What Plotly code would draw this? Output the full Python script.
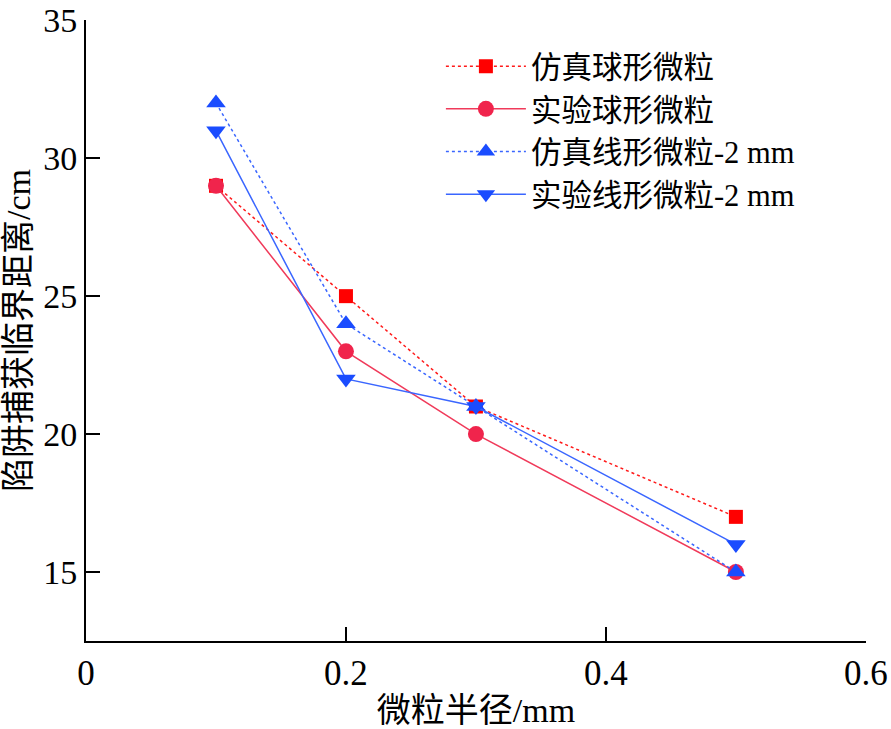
import plotly.graph_objects as go

radius = [0.1, 0.2, 0.3, 0.5]
sim_sphere = [29, 25, 21, 17]
exp_sphere = [29, 23, 20, 15]
sim_wire = [32, 24, 21, 15]
exp_wire = [31, 22, 21, 16]

names = ["仿真球形微粒", "实验球形微粒", "仿真线形微粒-2 mm", "实验线形微粒-2 mm"]
x_title = "微粒半径/mm"
y_title = "陷阱捕获临界距离/cm"

FONT = "Liberation Serif, Times New Roman, Noto Sans CJK SC, serif"

fig = go.Figure()
fig.add_trace(go.Scatter(x=radius, y=sim_sphere, name=names[0], mode="lines+markers",
                         line=dict(color="#ff1a1a", width=1.5, dash="dot"),
                         marker=dict(symbol="square", size=14, color="#ff0000")))
fig.add_trace(go.Scatter(x=radius, y=exp_sphere, name=names[1], mode="lines+markers",
                         line=dict(color="#f03a5a", width=1.5),
                         marker=dict(symbol="circle", size=16, color="#f0244c")))
fig.add_trace(go.Scatter(x=radius, y=sim_wire, name=names[2], mode="lines+markers",
                         line=dict(color="#3a66ff", width=1.5, dash="dot"),
                         marker=dict(symbol="triangle-up", size=17, color="#1a4cff")))
fig.add_trace(go.Scatter(x=radius, y=exp_wire, name=names[3], mode="lines+markers",
                         line=dict(color="#3a66ff", width=1.5),
                         marker=dict(symbol="triangle-down", size=17, color="#1a4cff")))

fig.update_layout(
    width=891, height=729,
    margin=dict(l=86, r=25, t=20, b=88),
    paper_bgcolor="white", plot_bgcolor="white",
    font=dict(family=FONT, size=32, color="black"),
    showlegend=True,
    legend=dict(x=0.455, y=0.968, xanchor="left", yanchor="top",
                bgcolor="rgba(0,0,0,0)", font=dict(size=30.5, family=FONT),
                itemwidth=80, tracegroupgap=0),
)
fig.update_xaxes(range=[0, 0.6001], tickvals=[0, 0.2, 0.4, 0.6], ticktext=["0", "0.2", "0.4", "0.6"],
                 showline=True, linecolor="black", linewidth=2, mirror=False,
                 ticks="inside", ticklen=14, tickwidth=2, tickcolor="black",
                 showgrid=False, zeroline=False, automargin=False,
                 ticklabeloverflow="allow",
                 tickfont=dict(size=35),
                 title=dict(text=x_title, standoff=8, font=dict(size=34)))
fig.update_yaxes(range=[12.5, 35.01], tickvals=[15, 20, 25, 30, 35],
                 showline=True, linecolor="black", linewidth=2, mirror=False,
                 ticks="inside", ticklen=14, tickwidth=2, tickcolor="black",
                 showgrid=False, zeroline=False, automargin=False,
                 ticklabeloverflow="allow",
                 tickfont=dict(size=34),
                 title=dict(text=y_title, standoff=4, font=dict(size=34)))

fig.write_html("out.html", config={"displayModeBar": False},
               post_script="document.body.style.margin='0';")
